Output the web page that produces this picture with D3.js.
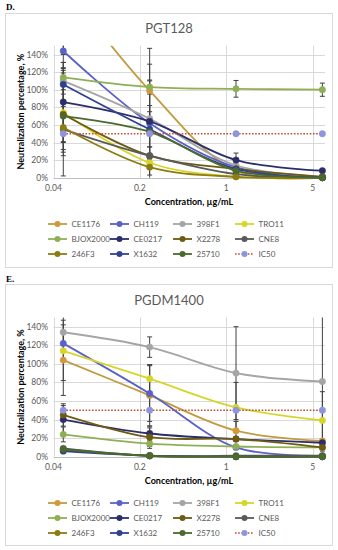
<!DOCTYPE html>
<html><head><meta charset="utf-8">
<script src="https://cdn.jsdelivr.net/npm/d3@7/dist/d3.min.js"></script>
<style>
html,body{margin:0;padding:0;background:#fff;}
svg{display:block;font-family:Lato,"Open Sans",sans-serif;}
</style></head>
<body>
<svg id="c" width="338" height="550"></svg>
<script>
// ---------- data ----------
const concentrations = [0.048, 0.24, 1.2, 6];          // µg/mL
const xTickValues = [0.04, 0.2, 1, 5];
const xTickLabels = ["0.04", "0.2", "1", "5"];
const yTickValues = [0, 20, 40, 60, 80, 100, 120, 140];
const seriesNames = ["CE1176","CH119","398F1","TRO11","BJOX2000","CE0217","X2278","CNE8","246F3","X1632","25710","IC50"];

// PGT128 neutralization, % (rows follow seriesNames)
const pgt128Values = [
  [220, 99, 8, 0],
  [144, 62, 12, 1],
  [110, 67, 14, 1],
  [74, 17, 1, 0],
  [114, 103, 101, 100],
  [86, 64, 20, 8],
  [72, 25, 10, 1],
  [55, 25, 4, 0],
  [57, 12, 1, 0],
  [106, 55, 10, 0],
  [70, 52, 8, 0],
  [50, 50, 50, 50]
];
const pgt128Errors = [
  [80, 30, 0, 0],
  [20, 85, 10, 0],
  [15, 43, 0, 0],
  [45, 0, 0, 0],
  [8, 8, 9.5, 7.5],
  [45, 40, 8, 0],
  [40, 0, 0, 0],
  [30, 10, 0, 0],
  [55, 9, 0, 0],
  [25, 20, 0, 0],
  [30, 30, 0, 0],
  [0, 0, 0, 0]
];
// PGDM1400 neutralization, %
const pgdm1400Values = [
  [104, 66, 28, 17],
  [122, 68, 10, 1],
  [134, 118, 90, 81],
  [114, 84, 53, 39],
  [24, 14, 11, 10],
  [40, 25, 19, 15],
  [45, 21, 19, 10],
  [9, 1, 1, 1],
  [7, 1, 0, 0],
  [6, 1, 0, 0],
  [8, 1, 0, 0],
  [50, 50, 50, 50]
];
const pgdm1400Errors = [
  [38, 33, 10, 0],
  [40, 30, 0, 0],
  [13, 11, 50, 75],
  [0, 15, 27, 31],
  [8, 5, 0, 0],
  [15, 8, 0, 0],
  [12, 10, 0, 0],
  [0, 0, 0, 0],
  [0, 0, 0, 0],
  [0, 0, 0, 0],
  [0, 0, 0, 0],
  [0, 0, 0, 0]
];

// ---------- styles ----------
const lineColors = ["#C29B3E","#5B62C6","#A5A5A5","#D6D62A","#8FAF55","#2C2E6A","#6E5A12","#5A5A5A","#8C7C12","#30428F","#4B6A2B","#C0502E"];
const markerColors = ["#D4973A","#5B62C6","#A5A5A5","#D6D62A","#8FAF55","#2C2E6A","#6E5A12","#5A5A5A","#8C7C12","#30428F","#4B6A2B","#8E94DE"];

const svg = d3.select("#c");

function panel(cfg) {
  const g = svg.append("g");
  g.append("text").attr("x", 6).attr("y", cfg.letterY).text(cfg.letter)
    .attr("font-family", "'Liberation Serif',serif").attr("font-weight", "bold").attr("font-size", 9).attr("fill", "#000");
  g.append("rect").attr("x", 5.5).attr("y", cfg.frameTop + 0.5).attr("width", 327).attr("height", cfg.frameBottom - cfg.frameTop)
    .attr("fill", "#fff").attr("stroke", "#D9D9D9").attr("stroke-width", 1);
  g.append("text").attr("x", 169).attr("y", cfg.titleY).attr("text-anchor", "middle")
    .attr("font-size", 13).attr("fill", "#595959").text(cfg.title);

  const x = d3.scaleLog().domain([0.04, 6.3]).range([53.5, 325]);
  const y = d3.scaleLinear().domain([0, 150]).range([cfg.y0, cfg.y150]);

  g.append("g").selectAll("line").data(yTickValues.slice(1)).join("line")
    .attr("x1", x.range()[0]).attr("x2", x.range()[1])
    .attr("y1", d => Math.round(y(d)) + 0.5).attr("y2", d => Math.round(y(d)) + 0.5)
    .attr("stroke", "#D9D9D9").attr("stroke-width", 1);
  g.append("g").selectAll("line").data(xTickValues).join("line")
    .attr("x1", d => Math.round(x(d)) + 0.5).attr("x2", d => Math.round(x(d)) + 0.5)
    .attr("y1", y(150)).attr("y2", y(0))
    .attr("stroke", "#D9D9D9").attr("stroke-width", 1);
  g.append("line").attr("x1", x.range()[0]).attr("x2", x.range()[1])
    .attr("y1", Math.round(y(0)) + 0.5).attr("y2", Math.round(y(0)) + 0.5).attr("stroke", "#BFBFBF");

  g.append("g").selectAll("text").data(yTickValues).join("text")
    .attr("x", 48).attr("y", d => y(d) + 3).attr("text-anchor", "end")
    .attr("font-size", 8.5).attr("fill", "#595959").text(d => d + "%");
  g.append("g").selectAll("text").data(xTickValues).join("text")
    .attr("x", d => x(d)).attr("y", cfg.xLabY).attr("text-anchor", "middle")
    .attr("font-size", 8.5).attr("fill", "#595959").text((d, i) => xTickLabels[i]);
  g.append("text").attr("x", 189).attr("y", cfg.xTitleY).attr("text-anchor", "middle")
    .attr("font-size", 9).attr("font-weight", "bold").attr("fill", "#000").text("Concentration, µg/mL");
  const ymid = (y(0) + y(150)) / 2;
  g.append("text").attr("transform", `translate(24,${ymid}) rotate(-90)`).attr("text-anchor", "middle")
    .attr("font-size", 9).attr("font-weight", "bold").attr("fill", "#000").text("Neutralization percentage, %");

  const cid = "clip" + cfg.letter.replace(".", "");
  svg.append("defs").append("clipPath").attr("id", cid).append("rect")
    .attr("x", x.range()[0] - 6).attr("y", y(150)).attr("width", x.range()[1] - x.range()[0] + 12).attr("height", y(0) - y(150) + 6);
  const pg = g.append("g").attr("clip-path", `url(#${cid})`);

  const eb = pg.append("g").attr("stroke", "#404040").attr("stroke-width", 1);
  cfg.values.forEach((vals, si) => {
    vals.forEach((v, i) => {
      const e = cfg.errors[si][i];
      if (!e) return;
      const cx = x(concentrations[i]);
      eb.append("line").attr("x1", cx).attr("x2", cx).attr("y1", y(v + e)).attr("y2", y(Math.max(0, v - e)));
      [v + e, v - e].forEach(t => {
        if (t < 0) return;
        eb.append("line").attr("x1", cx - 2.5).attr("x2", cx + 2.5).attr("y1", y(t)).attr("y2", y(t));
      });
    });
  });

  const line = d3.line().x((d, i) => x(concentrations[i])).y(d => y(d)).curve(d3.curveCatmullRom.alpha(0.5));
  cfg.values.forEach((vals, si) => {
    const isIC = seriesNames[si] === "IC50";
    pg.append("path").attr("d", line(vals)).attr("fill", "none")
      .attr("stroke", lineColors[si]).attr("stroke-width", isIC ? 1.6 : 1.8)
      .attr("stroke-dasharray", isIC ? "1.6,1.6" : null);
    pg.append("g").selectAll("circle").data(vals).join("circle")
      .attr("cx", (d, i) => x(concentrations[i])).attr("cy", d => y(d)).attr("r", 3.2)
      .attr("fill", markerColors[si]).attr("stroke", markerColors[si]).attr("stroke-width", 0.5);
  });

  const colSym = [48, 110, 173, 235];
  const lg = g.append("g");
  seriesNames.forEach((name, si) => {
    const col = si % 4, row = Math.floor(si / 4);
    const ly = cfg.legendY[row];
    const x0 = colSym[col];
    const isIC = name === "IC50";
    lg.append("line").attr("x1", x0).attr("x2", x0 + 19).attr("y1", ly).attr("y2", ly)
      .attr("stroke", lineColors[si]).attr("stroke-width", isIC ? 1.6 : 1.8)
      .attr("stroke-dasharray", isIC ? "1.6,1.6" : null);
    lg.append("circle").attr("cx", x0 + 9.5).attr("cy", ly).attr("r", 3).attr("fill", markerColors[si]);
    lg.append("text").attr("x", x0 + 23.5).attr("y", ly + 3).attr("font-size", 8).attr("fill", "#595959").text(name);
  });
}

panel({letter: "D.", letterY: 10, frameTop: 13, frameBottom: 267, title: "PGT128", titleY: 32.5,
  y0: 177.7, y150: 45.7, xLabY: 190.5, xTitleY: 204.5, legendY: [224, 239, 254],
  values: pgt128Values, errors: pgt128Errors});
panel({letter: "E.", letterY: 282, frameTop: 284, frameBottom: 545, title: "PGDM1400", titleY: 304.5,
  y0: 456.7, y150: 317.4, xLabY: 470, xTitleY: 483.5, legendY: [503, 518, 533],
  values: pgdm1400Values, errors: pgdm1400Errors});
</script>
</body></html>
